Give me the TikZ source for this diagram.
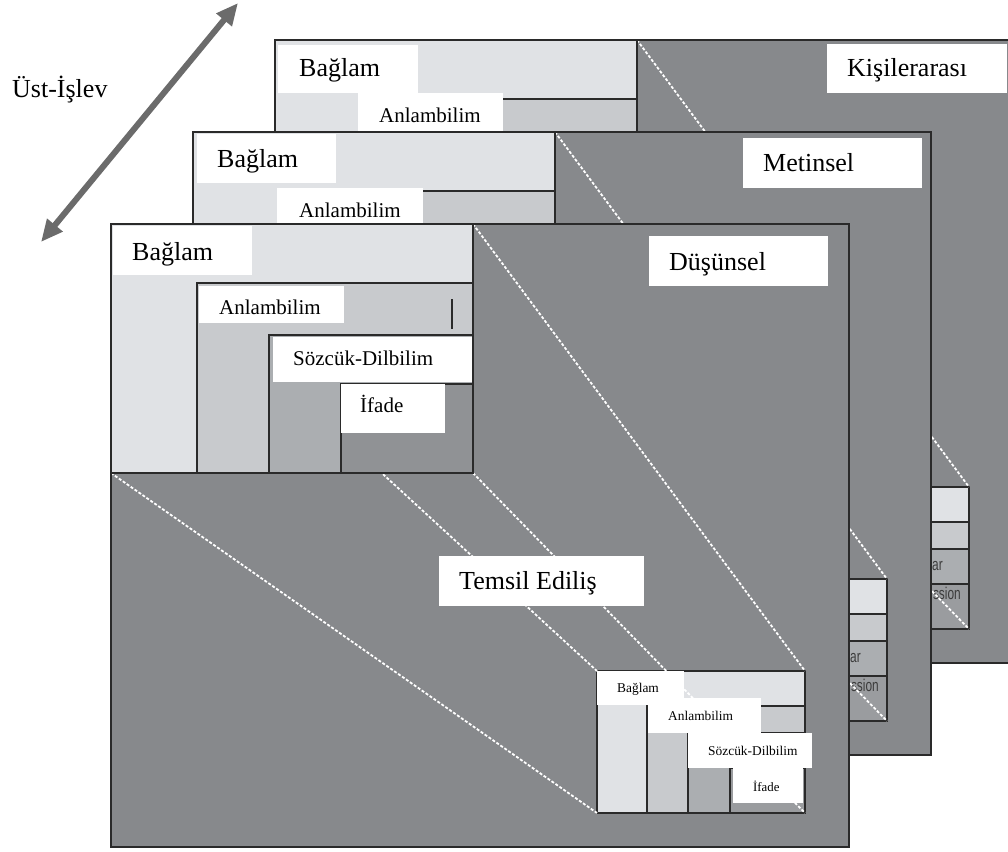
\documentclass[tikz,border=0pt]{standalone}
\usepackage{fontspec}
\setmainfont{Liberation Serif}
\newfontfamily\condsans{Liberation Sans}
\usetikzlibrary{arrows.meta}

\definecolor{panelgray}{HTML}{87898C}
\definecolor{bandA}{HTML}{E0E2E5}
\definecolor{bandB}{HTML}{C8CACD}
\definecolor{bandC}{HTML}{ABAEB1}
\definecolor{bandD}{HTML}{909295}
\definecolor{bandDs}{HTML}{9A9C9F}
\definecolor{edge}{HTML}{2A2A2A}
\definecolor{arrowgray}{HTML}{6B6B6B}
\definecolor{faded}{HTML}{3C3C3C}

\tikzset{
  edgeline/.style={draw=edge, line width=1.3pt},
  guide/.style={white, line width=1.8pt, dash pattern=on 3pt off 1.8pt},
  tag/.style={fill=white},
  bigtxt/.style={font=\fontsize{26}{26}\selectfont, anchor=base west, inner sep=0pt},
  midtxt/.style={font=\fontsize{21}{21}\selectfont, anchor=base west, inner sep=0pt},
  smalltxt/.style={font=\fontsize{13.4}{13.4}\selectfont, anchor=base west, inner sep=0pt},
  ghost/.style={font=\condsans\fontsize{17}{17}\selectfont, text=faded, anchor=base east, inner sep=0pt},
}

% One layer of the stack: panel, far copy of the nested boxes, guide lines,
% near copy of the nested boxes. #1,#2 = top-left corner, #3 = extra content
% placed inside the far copy before the guide lines.
\newcommand\layer[3]{%
  \begin{scope}[shift={(#1,#2)}]
    \fill[panelgray] (0,0) rectangle (738,623);
    % far (small) nested boxes
    \fill[bandA]  (486,447) rectangle (694,589);
    \fill[bandB]  (536,482) rectangle (694,589);
    \fill[bandC]  (577,509) rectangle (694,589);
    \fill[bandDs] (619,544) rectangle (694,589);
    \draw[edgeline] (536,589) |- (694,482);
    \draw[edgeline] (577,589) |- (694,509);
    \draw[edgeline] (619,589) |- (694,544);
    \draw[edgeline] (486,447) rectangle (694,589);
    #3
    % corners of near and far boxes
    \coordinate (nNW) at (0,0);     \coordinate (fNW) at (486,447);
    \coordinate (nNE) at (362,0);   \coordinate (fNE) at (694,447);
    \coordinate (nSW) at (0,249);   \coordinate (fSW) at (486,589);
    \coordinate (nSE) at (362,249); \coordinate (fSE) at (694,589);
    \draw[guide] (nNW) -- (fNW);
    \draw[guide] (nNE) -- (fNE);
    \draw[guide] (nSW) -- (fSW);
    \draw[guide] (nSE) -- (fSE);
    % near (large) nested boxes
    \fill[bandA] (0,0) rectangle (362,249);
    \fill[bandB] (86,59) rectangle (362,249);
    \fill[bandC] (158,111) rectangle (362,249);
    \fill[bandD] (230,160) rectangle (362,249);
    \draw[edgeline] (86,249) |- (362,59);
    \draw[edgeline] (158,249) |- (362,111);
    \draw[edgeline] (230,249) |- (362,160);
    \draw[edgeline] (0,0) rectangle (362,249);
    \draw[edgeline] (0,0) rectangle (738,623);
  \end{scope}}

\begin{document}
\begin{tikzpicture}[x=1pt,y=-1pt]
\useasboundingbox (0,0) rectangle (1008,851);
\clip (0,0) rectangle (1008,851);

% ---------- back layer ----------
\layer{275}{40}{%
  \node[ghost] (bk-lex) at (668,530) {\scalebox{0.7}[1]{ar}};
  \node[ghost] (bk-exp) at (686,559) {\scalebox{0.7}[1]{ssion}};}
\fill[tag] (278,45) rectangle (418,93);
\node[bigtxt] (bk-baglam) at (299,77) {Bağlam};
\fill[tag] (358,93) rectangle (503,135);
\node[midtxt] (bk-anlam) at (379,122) {Anlambilim};
\fill[tag] (827,44) rectangle (1007,93);
\node[bigtxt] (bk-title) at (847,77) {Kişilerarası};

% ---------- middle layer ----------
\layer{193}{132}{%
  \node[ghost] (md-lex) at (668,530) {\scalebox{0.7}[1]{ar}};
  \node[ghost] (md-exp) at (686,559) {\scalebox{0.7}[1]{ssion}};}
\fill[tag] (197,134) rectangle (336,183);
\node[bigtxt] (md-baglam) at (217,167) {Bağlam};
\fill[tag] (277,188) rectangle (423,240);
\node[midtxt] (md-anlam) at (299,217) {Anlambilim};
\fill[tag] (743,138) rectangle (922,188);
\node[bigtxt] (md-title) at (763,171) {Metinsel};

% ---------- front layer ----------
\layer{111}{224}{}
\draw[edgeline] (452,299) -- (452,329);
% near boxes
\fill[tag] (113,226) rectangle (252,275);
\node[bigtxt] (fr-baglam) at (132,260) {Bağlam};
\fill[tag] (199,286) rectangle (344,323);
\node[midtxt] (fr-anlam) at (219,314) {Anlambilim};
\fill[tag] (273,337) rectangle (472,382);
\node[midtxt] (fr-sozcuk) at (293,365) {Sözcük-Dilbilim};
\fill[tag] (341,384) rectangle (445,433);
\node[midtxt] (fr-ifade) at (360,412) {İfade};
% titles
\fill[tag] (649,236) rectangle (828,286);
\node[bigtxt] (fr-title) at (669,270) {Düşünsel};
\fill[tag] (439,556) rectangle (644,606);
\node[bigtxt] (fr-temsil) at (459,589) {Temsil Ediliş};
% far boxes
\fill[tag] (597,671) rectangle (684,705);
\node[smalltxt] (sm-baglam) at (617,692) {Bağlam};
\fill[tag] (648,698) rectangle (761,733);
\node[smalltxt] (sm-anlam) at (668,720) {Anlambilim};
\fill[tag] (688,733) rectangle (812,768);
\node[smalltxt] (sm-sozcuk) at (708,755) {Sözcük-Dilbilim};
\fill[tag] (733,768) rectangle (803,803);
\node[smalltxt, font=\fontsize{12.8}{12.8}\selectfont] (sm-ifade) at (753,791) {İfade};

% ---------- meta-function axis ----------
\node[bigtxt] (ust) at (12,97) {Üst-İşlev};
\coordinate (axisLow) at (41,242);
\coordinate (axisHigh) at (238,3);
\draw[arrowgray, line width=6pt,
      {Triangle[length=22pt,width=19pt]}-{Triangle[length=22pt,width=19pt]}]
      (axisLow) -- (axisHigh);
\end{tikzpicture}
\end{document}
